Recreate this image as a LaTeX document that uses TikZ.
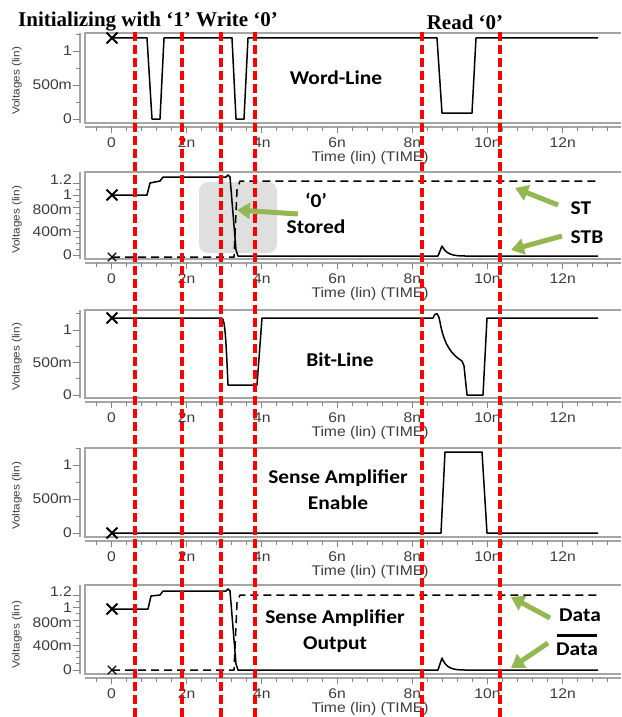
\documentclass[tikz,border=0pt]{standalone}
\usepackage{fontspec}
\setmainfont{Liberation Serif}
\newfontfamily\plotfont[FakeStretch=1.12]{Liberation Sans}
\newfontfamily\labelfont[FakeStretch=1.1]{Carlito}
\usepackage{xcolor}
\usepackage{tikz}
\usetikzlibrary{shapes,arrows.meta,calc}

\definecolor{calloutgreen}{RGB}{147,184,82}
\definecolor{framegray}{RGB}{165,165,165}
\definecolor{axistext}{RGB}{60,60,60}

\begin{document}
\begin{tikzpicture}[x=1pt,y=-1pt,
  frameline/.style={framegray,line width=1.1pt},
  tick/.style={framegray!80!black,line width=0.9pt},
  ticklabel/.style={font=\plotfont\fontsize{14}{16}\selectfont,text=axistext,inner sep=0pt},
  vlabel/.style={font=\plotfont\fontsize{10.5}{12}\selectfont,text=axistext,inner sep=0pt,rotate=90},
  trace/.style={black,line width=1.5pt,line join=round},
  dtrace/.style={trace,dash pattern=on 8pt off 5pt},
  xmark/.style={cross out,draw=black,line width=1.8pt,minimum size=9pt,inner sep=0pt},
  smallxmark/.style={xmark,line width=1.3pt,minimum size=7pt},
  cursor/.style={red,line width=3.2pt,dash pattern=on 9pt off 4pt},
  sigtitle/.style={font=\labelfont\bfseries\fontsize{19.5}{26}\selectfont,align=center,inner sep=0pt},
  header/.style={font=\bfseries\fontsize{21}{24}\selectfont,inner sep=0pt},
  callout/.style={calloutgreen,line width=5pt,-{Triangle[width=16pt,length=13pt]}}]
\useasboundingbox (0,0) rectangle (621,717);

% Plot frames and time axes
\foreach \ptop/\pbot [count=\i] in {33/123,172/259,310/398,448/537,585/674} {
  \draw[frameline] (621,\ptop) -- (85,\ptop) -- (85,\pbot) -- (621,\pbot);
  \draw[frameline] (80,\ptop) -- (80,\pbot);
  \draw[frameline] (85,\pbot+4) -- (621,\pbot+4);
  \foreach \t in {-0.4,0,...,13.2}
    \draw[tick] ({111.5+37.6*\t},\pbot+4) -- ++(0,4);
  \foreach \t/\lab in {0/0,2/2n,4/4n,6/6n,8/8n,10/10n,12/12n} {
    \draw[tick] ({111.5+37.6*\t},\pbot+4) -- ++(0,6);
    \node[ticklabel] (xt\i-\t) at ({111.5+37.6*\t},\pbot+20) {\lab};
  }
  \node[ticklabel] (time\i) at (370,\pbot+35) {Time (lin) (TIME)};
}

% Voltage axes, 0 to 1
\foreach \z/\s/\yc [count=\i] in {119/68/81,395/65/357,533/68/496} {
  \foreach \v in {0,0.25,...,1.25}
    \draw[tick] (80,{\z-\s*\v}) -- ++(-4,0);
  \foreach \v/\lab [count=\j] in {0/0,0.5/500m,1/1} {
    \draw[tick] (80,{\z-\s*\v}) -- ++(-7,0);
    \node[ticklabel,anchor=east] (ya\i-\j) at (72,{\z-\s*\v}) {\lab};
  }
  \node[vlabel] (volta\i) at (17,\yc) {Voltages (lin)};
}

% Voltage axes, 0 to 1.2 (labels squeezed as in the simulator)
\foreach \z/\s/\yc [count=\i] in {255/60/220,670/62.5/635} {
  \foreach \v in {0,0.1,...,1.3}
    \draw[tick] (80,{\z-\s*\v}) -- ++(-4,0);
  \foreach \v in {0,0.4,0.8,1,1.2}
    \draw[tick] (80,{\z-\s*\v}) -- ++(-7,0);
  \foreach \v/\lab/\dy [count=\j] in {0/0/0,0.4/400m/1,0.8/800m/3,1/1/0,1.2/1.2/-3} {
    \node[ticklabel,anchor=east] (yb\i-\j) at (72,{\z-\s*\v+\dy}) {\lab};
  }
  \node[vlabel] (voltb\i) at (17,\yc) {Voltages (lin)};
}

% '0' stored highlight
\fill[gray!25,rounded corners=9pt] (199,182) rectangle (277,253);

% Word-Line
\draw[trace] (112,38) -- (147,38) -- (152,119) -- (160,119) -- (164,38) -- (232,38)
  -- (236,119) -- (244,119) -- (248,38) -- (437,38) -- (442,113) -- (472,113)
  -- (476,38) -- (598,38);
\node[xmark] (wlx) at (112,38) {};

% Storage nodes ST and STB
\draw[trace] (112,195) -- (147,195) -- (150,183) -- (160,181) -- (163,177) -- (226,177)
  -- (228,175) -- (230,177) -- (236,250) -- (238,256) -- (438,256) -- (442,246)
  .. controls (446,254) and (452,256) .. (465,256) -- (598,256);
\draw[dtrace] (112,257) -- (234,257) -- (237,190) -- (240,181) -- (598,181);
\node[xmark] (stx) at (112,195) {};
\node[smallxmark] (stbx) at (112,257) {};

% Bit-Line
\draw[trace] (112,318) -- (222,318) .. controls (225,320) and (226,340) .. (228,385)
  -- (257,385) -- (262,318) -- (433,318) .. controls (436,311) and (438,312) .. (440,322)
  .. controls (444,345) and (452,355) .. (462,361) -- (464,366) -- (467,395)
  -- (483,395) -- (487,318) -- (598,318);
\node[xmark] (blx) at (112,318) {};

% Sense amplifier enable
\draw[trace] (112,533) -- (441,533) -- (445,452) -- (482,452) -- (487,533) -- (598,533);
\node[xmark] (saex) at (112,533) {};

% Sense amplifier output
\draw[trace] (112,609) -- (148,609) -- (151,596) -- (160,595) -- (163,591) -- (226,591)
  -- (228,589) -- (230,591) -- (236,664) -- (238,670) -- (438,670) -- (442,658)
  .. controls (446,668) and (452,670) .. (465,670) -- (598,670);
\draw[dtrace] (112,670) -- (234,670) -- (237,603) -- (240,595) -- (598,595);
\node[xmark] (dx) at (112,609) {};
\node[smallxmark] (dbx) at (112,670) {};

% Phase cursors
\foreach \x in {135,182,221,255,422,500}
  \draw[cursor] (\x,32) -- (\x,717);

% Phase headers
\node[header,anchor=base west] (init) at (18,27) {Initializing with ‘1’ Write ‘0’};
\node[header,anchor=base] (read) at (465,30) {Read ‘0’};

% Signal names
\node[sigtitle] (wl) at (336,78) {Word-Line};
\node[sigtitle] (stored) at (316,213) {‘0’\\Stored};
\node[sigtitle] (st) at (581,208) {ST};
\node[sigtitle] (stb) at (587,237) {STB};
\node[sigtitle] (bl) at (340,360) {Bit-Line};
\node[sigtitle] (sae) at (338,490) {Sense Amplifier\\Enable};
\node[sigtitle] (sao) at (335,631) {Sense Amplifier\\Output};
\node[sigtitle] (data) at (580,615) {Data};
\node[sigtitle] (datab) at (577,649) {Data};
\draw[black,line width=3pt] (557,635) -- (597,635);

% Callouts
\coordinate (storedtip) at (237,210);
\coordinate (sttip) at (515,188);
\coordinate (stbtip) at (511,250);
\coordinate (datatip) at (511,597);
\coordinate (databtip) at (511,668);
\draw[callout] (298,214) -- (storedtip);
\draw[callout] (558,205) -- (sttip);
\draw[callout] (562,236) -- (stbtip);
\draw[callout] (550,618) -- (datatip);
\draw[callout] (548,643) -- (databtip);

\end{tikzpicture}
\end{document}
